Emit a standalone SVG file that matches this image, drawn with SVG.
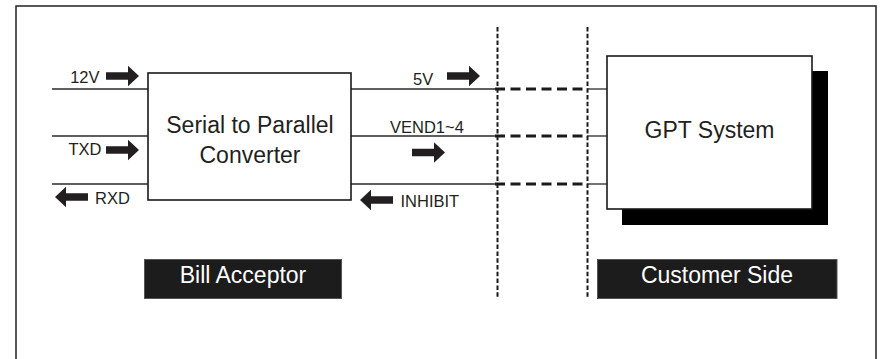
<svg xmlns="http://www.w3.org/2000/svg" xmlns:xlink="http://www.w3.org/1999/xlink" width="881" height="359" viewBox="0 0 881 359">
<style>
  .big { font-family: "Liberation Sans", Arial, sans-serif; font-size: 23px; fill: #231f20; }
  .lbl { font-family: "Liberation Sans", Arial, sans-serif; font-size: 16.5px; fill: #231f20; }
  .wht { font-family: "Liberation Sans", Arial, sans-serif; font-size: 23px; fill: #ffffff; }
  .wire { stroke: #2a2a2a; stroke-width: 1.3; fill: none; }
  .dash { stroke: #1a1a1a; stroke-width: 3; stroke-dasharray: 10 5.5; fill: none; }
  .dot { stroke: #1a1a1a; stroke-width: 2; stroke-dasharray: 4.5 2.3; fill: none; }
  .box { fill: #ffffff; stroke: #1a1a1a; stroke-width: 1.6; }
  .tag { fill: #1c1c1c; stroke: #555555; stroke-width: 1; }
  .arw { fill: #231f20; }
</style>
<defs>
  <path id="arrowR" class="arw" d="M-33,-3.8 H-11 V-10.3 L0,0 L-11,10.3 V3.8 H-33 Z"/>
</defs>
<rect x="0" y="0" width="881" height="359" fill="#ffffff"/>
<rect x="16" y="6" width="860" height="370" fill="none" stroke="#222222" stroke-width="1.5"/>

<g id="connectors">
  <line class="wire" x1="52" y1="89" x2="148" y2="89"/>
  <line class="wire" x1="52" y1="136" x2="148" y2="136"/>
  <line class="wire" x1="52" y1="184" x2="148" y2="184"/>
  <line class="wire" x1="351" y1="89" x2="497" y2="89"/>
  <line class="wire" x1="351" y1="136" x2="497" y2="136"/>
  <line class="wire" x1="351" y1="184" x2="497" y2="184"/>
  <line class="dash" x1="495" y1="89" x2="588" y2="89"/>
  <line class="dash" x1="495" y1="136" x2="588" y2="136"/>
  <line class="dash" x1="495" y1="184" x2="588" y2="184"/>
  <line class="wire" x1="587" y1="89" x2="607" y2="89"/>
  <line class="wire" x1="587" y1="136" x2="607" y2="136"/>
  <line class="wire" x1="587" y1="184" x2="607" y2="184"/>
  <line class="dot" x1="497.5" y1="27" x2="497.5" y2="299"/>
  <line class="dot" x1="587.5" y1="27" x2="587.5" y2="299"/>
  <use xlink:href="#arrowR" transform="translate(139,76)"/>
  <use xlink:href="#arrowR" transform="translate(139,150)"/>
  <use xlink:href="#arrowR" transform="translate(55,197) scale(-1,1)"/>
  <use xlink:href="#arrowR" transform="translate(480,76)"/>
  <use xlink:href="#arrowR" transform="translate(445,152.5)"/>
  <use xlink:href="#arrowR" transform="translate(360,200) scale(-1,1)"/>
  <text class="lbl" x="99.5" y="82.5" text-anchor="end">12V</text>
  <text class="lbl" x="101.5" y="154.5" text-anchor="end">TXD</text>
  <text class="lbl" x="95" y="204">RXD</text>
  <text class="lbl" x="413" y="85">5V</text>
  <text class="lbl" x="390" y="133">VEND1~4</text>
  <text class="lbl" x="400.5" y="206.5">INHIBIT</text>
</g>

<g id="converter">
  <rect class="box" x="148" y="73" width="203" height="127"/>
  <text class="big" x="250" y="132.5" text-anchor="middle">Serial to Parallel</text>
  <text class="big" x="250" y="163" text-anchor="middle">Converter</text>
</g>

<g id="gpt-system">
  <rect x="622" y="71" width="206" height="154" fill="#000000"/>
  <rect class="box" x="607" y="56" width="205" height="153"/>
  <text class="big" x="709.5" y="138" text-anchor="middle">GPT System</text>
</g>

<g id="bill-acceptor">
  <rect class="tag" x="144.5" y="259.5" width="197" height="39"/>
  <text class="wht" x="243" y="283" text-anchor="middle">Bill Acceptor</text>
</g>

<g id="customer-side">
  <rect class="tag" x="597.5" y="259.5" width="239.5" height="39"/>
  <text class="wht" x="717" y="283" text-anchor="middle">Customer Side</text>
</g>
</svg>
